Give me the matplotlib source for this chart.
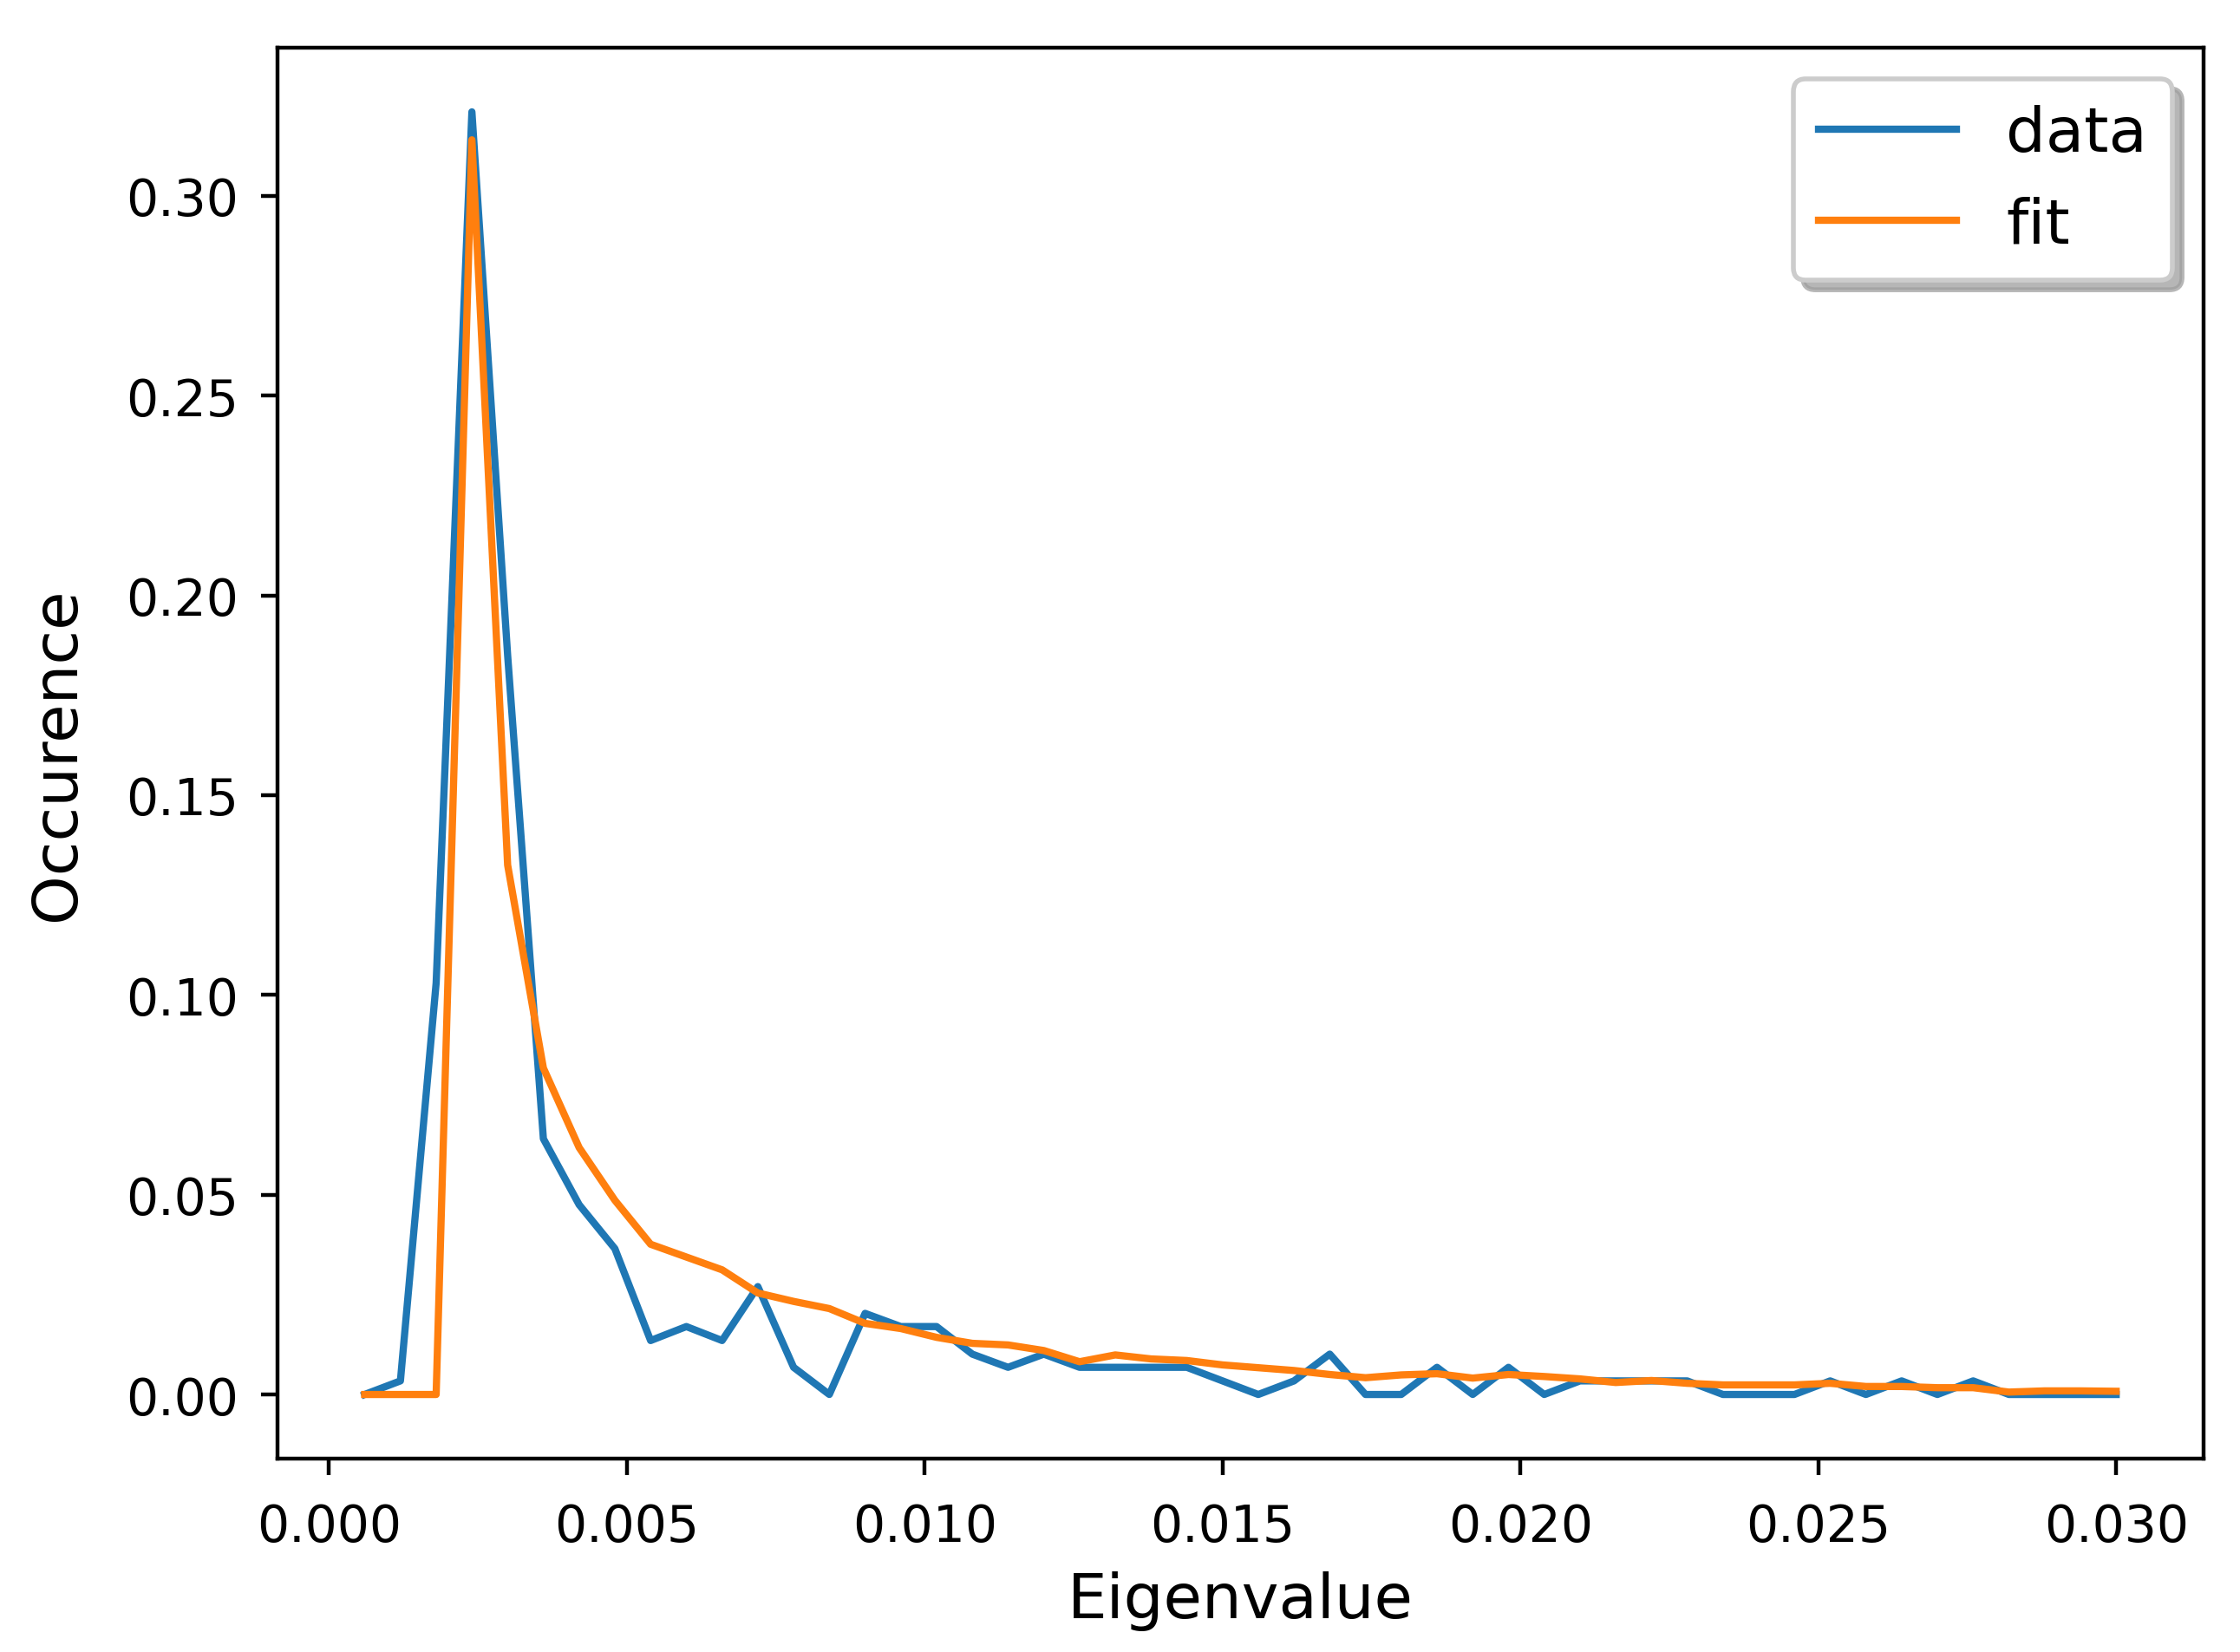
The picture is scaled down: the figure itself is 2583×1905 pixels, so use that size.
import matplotlib
matplotlib.use("Agg")
import matplotlib.pyplot as plt

eigenvalue = [0.0006, 0.0012, 0.0018, 0.0024, 0.0030, 0.0036, 0.0042, 0.0048, 0.0054, 0.0060,
              0.0066, 0.0072, 0.0078, 0.0084, 0.0090, 0.0096, 0.0102, 0.0108, 0.0114, 0.0120,
              0.0126, 0.0132, 0.0138, 0.0144, 0.0150, 0.0156, 0.0162, 0.0168, 0.0174, 0.0180,
              0.0186, 0.0192, 0.0198, 0.0204, 0.0210, 0.0216, 0.0222, 0.0228, 0.0234, 0.0240,
              0.0246, 0.0252, 0.0258, 0.0264, 0.0270, 0.0276, 0.0282, 0.0288, 0.0294, 0.0300]

data = [0.0, 0.0034, 0.103, 0.321, 0.185, 0.064, 0.0475, 0.0365, 0.0135, 0.017,
        0.0135, 0.027, 0.0068, 0.0, 0.0203, 0.017, 0.017, 0.0101, 0.0068, 0.0101,
        0.0068, 0.0068, 0.0068, 0.0068, 0.0034, 0.0, 0.0034, 0.0101, 0.0, 0.0,
        0.0068, 0.0, 0.0068, 0.0, 0.0034, 0.0034, 0.0034, 0.0034, 0.0, 0.0,
        0.0, 0.0034, 0.0, 0.0034, 0.0, 0.0034, 0.0, 0.0, 0.0, 0.0]

fit = [0.0, 0.0, 0.0, 0.314, 0.1325, 0.0817, 0.0618, 0.0486, 0.0376, 0.0344,
       0.0312, 0.0254, 0.0233, 0.0215, 0.0178, 0.0165, 0.0143, 0.0128, 0.0124, 0.011,
       0.0082, 0.0099, 0.0089, 0.0085, 0.0074, 0.0067, 0.006, 0.005, 0.0042, 0.0049,
       0.0052, 0.0041, 0.005, 0.0045, 0.0039, 0.003, 0.0035, 0.0028, 0.0024, 0.0024,
       0.0024, 0.0028, 0.002, 0.002, 0.0017, 0.0017, 0.0006, 0.0009, 0.0009, 0.0008]

x_ticks = [0.0, 0.005, 0.010, 0.015, 0.020, 0.025, 0.030]
x_tick_labels = ["0.000", "0.005", "0.010", "0.015", "0.020", "0.025", "0.030"]
y_ticks = [0.0, 0.05, 0.10, 0.15, 0.20, 0.25, 0.30]
y_tick_labels = ["0.00", "0.05", "0.10", "0.15", "0.20", "0.25", "0.30"]

fig = plt.figure(figsize=(6.4575, 4.765), dpi=400)
ax = fig.add_subplot(111)
fig.subplots_adjust(left=0.1237, right=0.9838, top=0.9706, bottom=0.117)

ax.plot(eigenvalue, data, color="#1f77b4", linewidth=1.5, label="data")
ax.plot(eigenvalue, fit, color="#ff7f0e", linewidth=1.5, label="fit")

ax.set_xticks(x_ticks)
ax.set_xticklabels(x_tick_labels)
ax.set_yticks(y_ticks)
ax.set_yticklabels(y_tick_labels)
ax.tick_params(axis="x", labelsize=10.5, pad=5.5)
ax.tick_params(axis="y", labelsize=10.5, pad=4.5)

ax.set_xlabel("Eigenvalue", fontsize=13)
ax.set_ylabel("Occurence", fontsize=13, labelpad=8)
ax.legend(loc="upper right", fontsize=13, handlelength=2.2,
          shadow={"color": "0.62", "alpha": 0.75})

fig.savefig("out.png", dpi=400)
